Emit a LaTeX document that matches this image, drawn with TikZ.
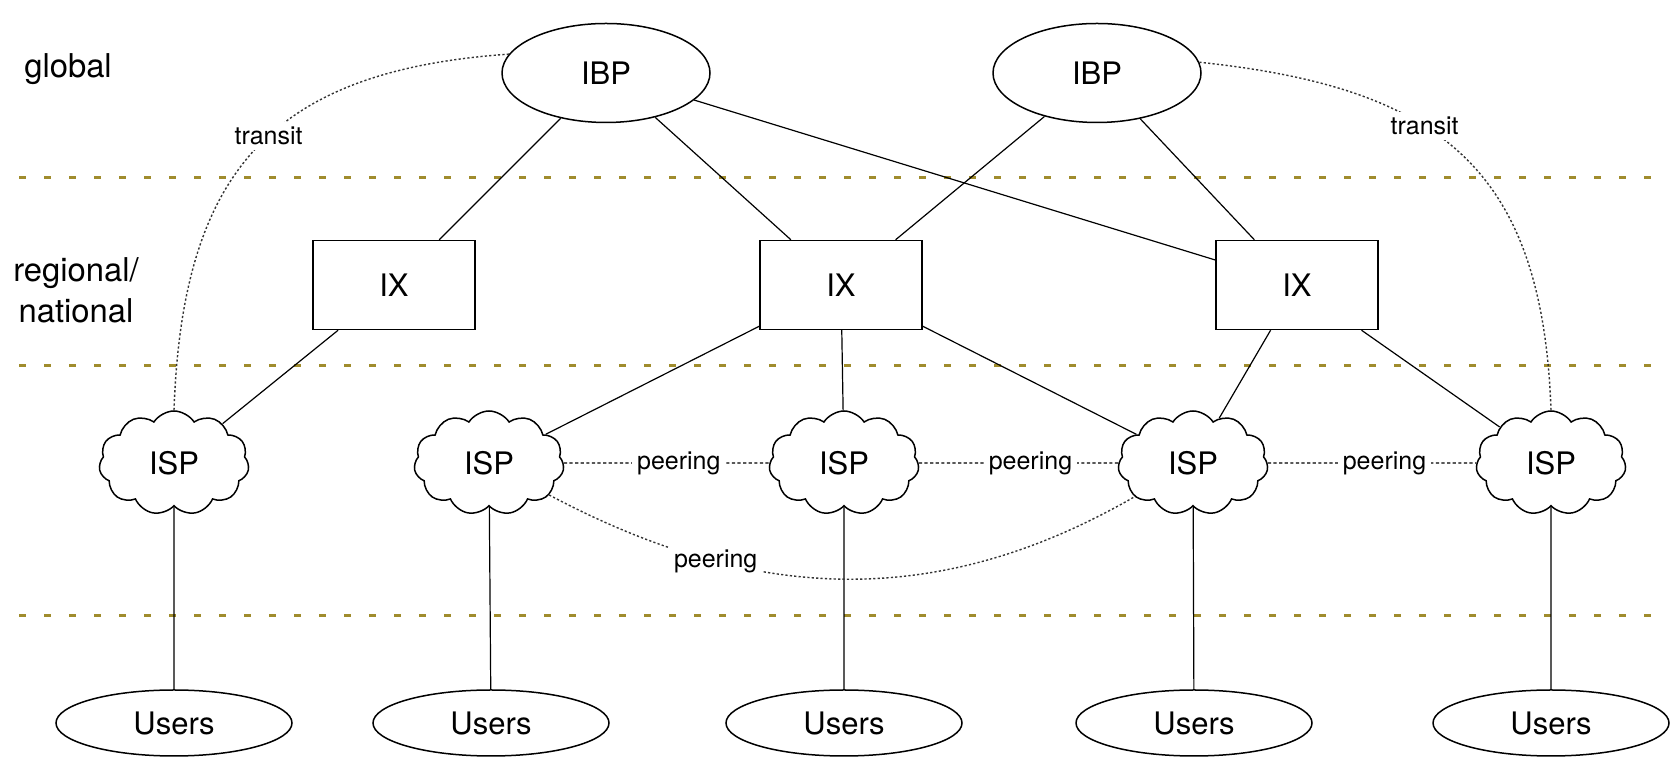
\documentclass[tikz,border=0pt]{standalone}
\usepackage{fontspec}
\setmainfont{TeX Gyre Heros}
\usetikzlibrary{shapes.geometric,shapes.symbols}

\definecolor{layergold}{RGB}{160,140,45}

\tikzset{
  bigoval/.style={ellipse, draw, line width=0.75pt, inner sep=0pt,
    minimum width=104pt, minimum height=49.5pt, font=\fontsize{15.5}{18}\selectfont},
  useroval/.style={ellipse, draw, line width=0.75pt, inner sep=0pt,
    minimum width=118pt, minimum height=33pt, font=\fontsize{15.5}{18}\selectfont},
  ixbox/.style={rectangle, draw, line width=0.75pt, inner sep=0pt,
    minimum width=81pt, minimum height=44.5pt, font=\fontsize{15.5}{18}\selectfont},
  ispcloud/.style={cloud, draw, line width=0.75pt, inner sep=0pt, cloud puffs=11,
    cloud puff arc=115, aspect=1.45, minimum width=75pt, minimum height=52pt,
    font=\fontsize{15.5}{18}\selectfont},
  levelname/.style={font=\fontsize{16.4}{20.5}\selectfont, align=center},
  linkname/.style={font=\fontsize{12.5}{15}\selectfont, fill=white, inner sep=2.5pt},
  layer/.style={draw=layergold, line width=1.5pt, dash pattern=on 3.5pt off 9pt},
  peerline/.style={line width=0.65pt, dash pattern=on 1.6pt off 1.2pt},
  farline/.style={draw=black!80, line width=0.7pt, dash pattern=on 1.1pt off 1.1pt}
}

\begin{document}
\begin{tikzpicture}[x=0.5pt, y=0.5pt, line width=0.6pt]
\useasboundingbox (0,0) rectangle (1675,759);

% level borders
\draw[layer] (19,581) -- (1654,581);
\draw[layer] (19,393) -- (1654,393);
\draw[layer] (19,143) -- (1654,143);

\node[levelname, anchor=west] (glob) at (17,690) {global};
\node[levelname] (regn) at (76,469) {regional/\\national};

\node[bigoval] (ibp1) at (606,686) {IBP};
\node[bigoval] (ibp2) at (1097,686) {IBP};

\node[ixbox] (ix1) at (394,474) {IX};
\node[ixbox] (ix2) at (841,474) {IX};
\node[ixbox] (ix3) at (1297,474) {IX};

\node[ispcloud] (isp1) at (174,296) {ISP};
\node[ispcloud] (isp2) at (489,296) {ISP};
\node[ispcloud] (isp3) at (844,296) {ISP};
\node[ispcloud] (isp4) at (1193,296) {ISP};
\node[ispcloud] (isp5) at (1551,296) {ISP};

\node[useroval] (u1) at (174,36) {Users};
\node[useroval] (u2) at (491,36) {Users};
\node[useroval] (u3) at (844,36) {Users};
\node[useroval] (u4) at (1194,36) {Users};
\node[useroval] (u5) at (1551,36) {Users};

\draw (ibp1) edge (ix1);
\draw (ibp1) edge (ix2);
\draw (ibp1) edge (ix3);
\draw (ibp2) edge (ix2);
\draw (ibp2) edge (ix3);

\draw (ix1) edge (isp1);
\draw (ix2) edge (isp2);
\draw (ix2) edge (isp3);
\draw (ix2) edge (isp4);
\draw (ix3) edge (isp4);
\draw (ix3) edge (isp5);

\draw (isp1) -- (u1);
\draw (isp2) -- (u2);
\draw (isp3) -- (u3);
\draw (isp4) -- (u4);
\draw (isp5) -- (u5);

% peering and transit
\draw[peerline] (isp2) -- node[linkname, pos=0.56] (pr1) {peering} (isp3);
\draw[peerline] (isp3) -- node[linkname, pos=0.56] (pr2) {peering} (isp4);
\draw[peerline] (isp4) -- node[linkname, pos=0.56] (pr3) {peering} (isp5);
\draw[farline] (isp2) to[out=-28, in=-150] node[linkname, pos=0.28] (pr4) {peering} (isp4);

\draw[farline] (ibp1.169) to[out=184, in=88, looseness=1.25] node[linkname, pos=0.46] (tr1) {transit} (isp1.north);
\draw[farline] (ibp2.6) to[out=-6, in=92, looseness=1.25] node[linkname, pos=0.4] (tr2) {transit} (isp5.north);
\end{tikzpicture}
\end{document}
